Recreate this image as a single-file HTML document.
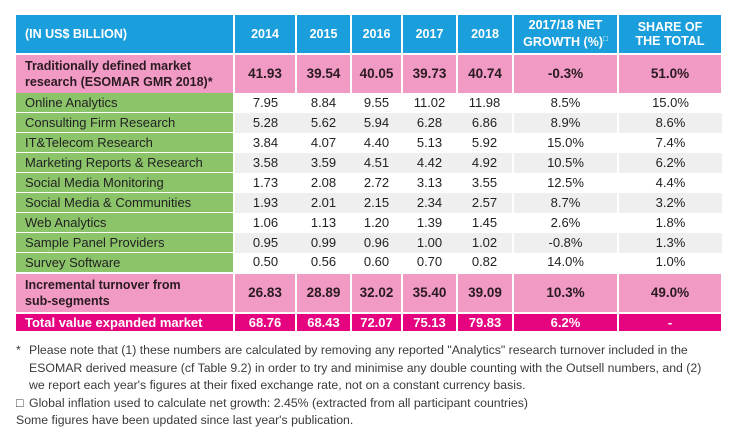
<!DOCTYPE html>
<html><head><meta charset="utf-8"><style>
html,body{margin:0;padding:0;background:#fff;width:741px;height:432px;overflow:hidden}
body{font-family:"Liberation Sans",sans-serif;position:relative}
table{position:absolute;left:16px;top:15px;border-collapse:collapse;table-layout:fixed;width:706px}
td{padding:0;font-size:12.5px;color:#222;text-align:center;white-space:nowrap;line-height:14px}
td.l{text-align:left;padding-left:9px}
.h td{background:#1b9fdc;color:#fff;font-weight:bold;height:38px;border-right:2px solid #fff;line-height:14px;font-size:12.5px}
.p td{background:#f19ac3;font-weight:bold;height:38px;font-size:13.5px;border-right:2px solid #fff;border-top:2px solid #fff;color:#2a1a22}
.p td.l{font-size:12.5px;line-height:16px}
.d td{height:19px;font-size:13px}
.d td.l{background:#8cc46a;border-right:2px solid #fff;border-bottom:1px solid #fff}
.d:nth-child(odd) td:not(.l){background:#fff}
.d:nth-child(even) td:not(.l){background:#efefef}
.d td.s{border-left:2px solid #fff}
.t td{background:#e5037f;color:#fff;font-weight:bold;height:17px;font-size:13px;border-right:2px solid #fff;border-top:2px solid #fff}
.fn{position:absolute;left:16px;top:342px;font-family:"Liberation Sans",sans-serif;font-size:12.3px;color:#3a3a3a;line-height:17.5px}
.fn p{margin:0;padding-left:13px;position:relative}
.fn p span{position:absolute;left:0}
</style></head><body>
<table>
<colgroup><col style="width:218px"><col style="width:62px"><col style="width:55px"><col style="width:51px"><col style="width:55px"><col style="width:56px"><col style="width:105px"><col style="width:104px"></colgroup>
<tbody>
<tr class="h"><td class="l">(IN US$ BILLION)</td><td>2014</td><td>2015</td><td>2016</td><td>2017</td><td>2018</td><td>2017/18 NET<br>GROWTH (%)<sup style="font-size:8px">□</sup></td><td>SHARE OF<br>THE TOTAL</td></tr>
<tr class="p"><td class="l">Traditionally defined market<br>research (ESOMAR GMR 2018)*</td><td>41.93</td><td>39.54</td><td>40.05</td><td>39.73</td><td>40.74</td><td>-0.3%</td><td>51.0%</td></tr>
<tr class="d"><td class="l">Online Analytics</td><td>7.95</td><td>8.84</td><td>9.55</td><td>11.02</td><td>11.98</td><td class="s">8.5%</td><td class="s">15.0%</td></tr>
<tr class="d"><td class="l">Consulting Firm Research</td><td>5.28</td><td>5.62</td><td>5.94</td><td>6.28</td><td>6.86</td><td class="s">8.9%</td><td class="s">8.6%</td></tr>
<tr class="d"><td class="l">IT&amp;Telecom Research</td><td>3.84</td><td>4.07</td><td>4.40</td><td>5.13</td><td>5.92</td><td class="s">15.0%</td><td class="s">7.4%</td></tr>
<tr class="d"><td class="l">Marketing Reports &amp; Research</td><td>3.58</td><td>3.59</td><td>4.51</td><td>4.42</td><td>4.92</td><td class="s">10.5%</td><td class="s">6.2%</td></tr>
<tr class="d"><td class="l">Social Media Monitoring</td><td>1.73</td><td>2.08</td><td>2.72</td><td>3.13</td><td>3.55</td><td class="s">12.5%</td><td class="s">4.4%</td></tr>
<tr class="d"><td class="l">Social Media &amp; Communities</td><td>1.93</td><td>2.01</td><td>2.15</td><td>2.34</td><td>2.57</td><td class="s">8.7%</td><td class="s">3.2%</td></tr>
<tr class="d"><td class="l">Web Analytics</td><td>1.06</td><td>1.13</td><td>1.20</td><td>1.39</td><td>1.45</td><td class="s">2.6%</td><td class="s">1.8%</td></tr>
<tr class="d"><td class="l">Sample Panel Providers</td><td>0.95</td><td>0.99</td><td>0.96</td><td>1.00</td><td>1.02</td><td class="s">-0.8%</td><td class="s">1.3%</td></tr>
<tr class="d"><td class="l">Survey Software</td><td>0.50</td><td>0.56</td><td>0.60</td><td>0.70</td><td>0.82</td><td class="s">14.0%</td><td class="s">1.0%</td></tr>
<tr class="p"><td class="l" style="height:35px">Incremental turnover from<br>sub-segments</td><td>26.83</td><td>28.89</td><td>32.02</td><td>35.40</td><td>39.09</td><td>10.3%</td><td>49.0%</td></tr>
<tr class="t"><td class="l">Total value expanded market</td><td>68.76</td><td>68.43</td><td>72.07</td><td>75.13</td><td>79.83</td><td>6.2%</td><td>-</td></tr>
</tbody></table>
<div class="fn">
<p><span>*</span>Please note that (1) these numbers are calculated by removing any reported "Analytics" research turnover included in the<br>ESOMAR derived measure (cf Table 9.2) in order to try and minimise any double counting with the Outsell numbers, and (2)<br>we report each year's figures at their fixed exchange rate, not on a constant currency basis.</p>
<p><span>□</span>Global inflation used to calculate net growth: 2.45% (extracted from all participant countries)</p>
<p style="padding-left:0">Some figures have been updated since last year's publication.</p>
</div>
</body></html>
